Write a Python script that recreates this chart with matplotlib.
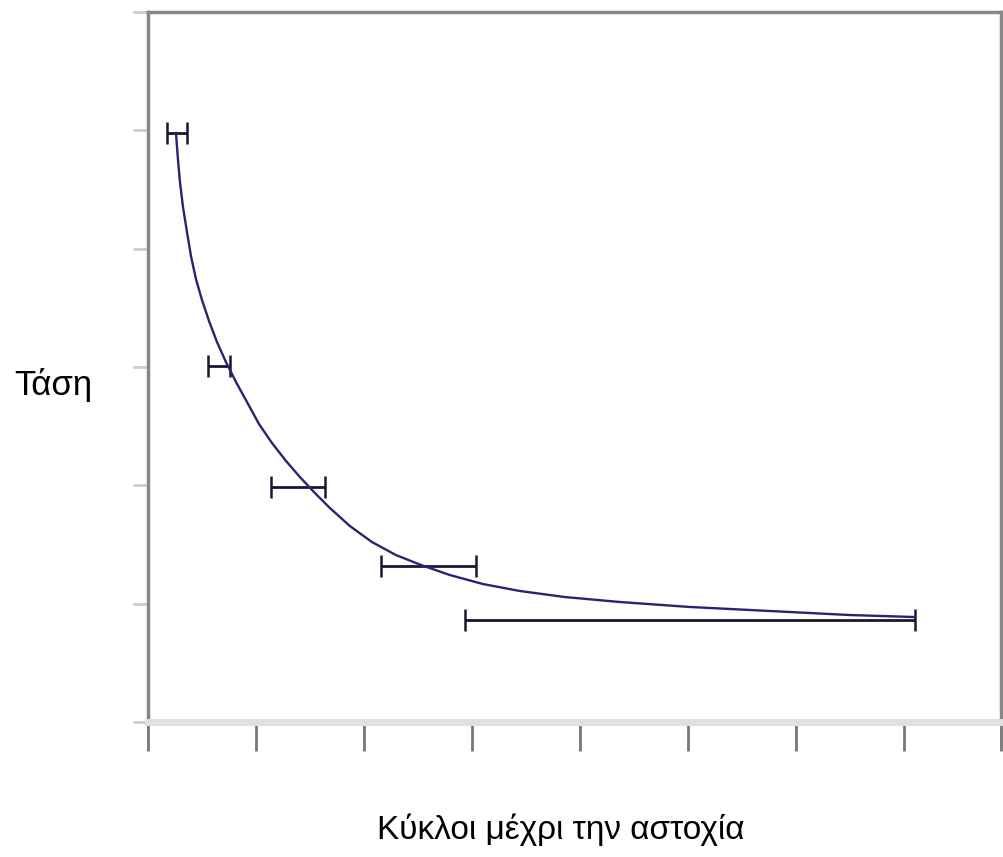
import numpy as np
import matplotlib.pyplot as plt

# error bar points (center x, half width, y)
pt_x = [0.27, 0.66, 1.39, 2.60, 5.02]
pt_xerr = [0.09, 0.10, 0.25, 0.44, 2.08]
pt_y = [4.98, 3.01, 1.99, 1.32, 0.86]

# curve
curve_x = [0.259, 0.278, 0.296, 0.324, 0.361, 0.398, 0.444, 0.500, 0.565, 0.639,
           0.722, 0.815, 0.917, 1.028, 1.148, 1.278, 1.407, 1.546, 1.685, 1.870,
           2.074, 2.296, 2.528, 2.796, 3.102, 3.444, 3.861, 4.370, 5.019, 5.759,
           6.500, 7.102]
curve_y = [4.977, 4.749, 4.563, 4.352, 4.141, 3.938, 3.744, 3.566, 3.389, 3.211,
           3.042, 2.873, 2.704, 2.518, 2.358, 2.206, 2.070, 1.935, 1.808, 1.656,
           1.521, 1.411, 1.327, 1.242, 1.166, 1.107, 1.056, 1.014, 0.972, 0.938,
           0.904, 0.887]

x_ticks = [0, 1, 2, 3, 4, 5, 6, 7, 7.9]
y_ticks = [0, 1, 2, 3, 4, 5, 6]

fig = plt.figure(figsize=(10.04, 8.57), dpi=100)
ax = fig.add_axes([148/1004, 1-722/857, 853/1004, 710/857])

ax.plot(curve_x, curve_y, color='#2a2370', lw=1.7, zorder=3,
        solid_joinstyle='round')
ax.errorbar(pt_x, pt_y, xerr=pt_xerr, fmt='none', ecolor='#1c1630',
            elinewidth=2, capsize=8, capthick=1.8, zorder=2)

ax.set_xlim(0, 7.9)
ax.set_ylim(0, 6)
ax.set_xticks(x_ticks)
ax.set_yticks(y_ticks)
ax.set_xticklabels([])
ax.set_yticklabels([])
ax.tick_params(axis='x', direction='out', length=21, width=2, color='#777777')
ax.tick_params(axis='y', direction='out', length=11, width=2, color='#cccccc')

for s in ['left', 'top', 'right']:
    ax.spines[s].set_color('#888888')
    ax.spines[s].set_linewidth(2.5)
ax.spines['bottom'].set_color('#e0e0e0')
ax.spines['bottom'].set_linewidth(5)

fnt = ['Liberation Sans', 'DejaVu Sans']
fig.text(53/1004, 1-385/857, 'Τάση', ha='center', va='center',
         fontsize=25, family=fnt)
fig.text(561/1004, 1-830/857, 'Κύκλοι μέχρι την αστοχία', ha='center',
         va='center', fontsize=24, family=fnt)

fig.savefig('out.png', dpi=100)
